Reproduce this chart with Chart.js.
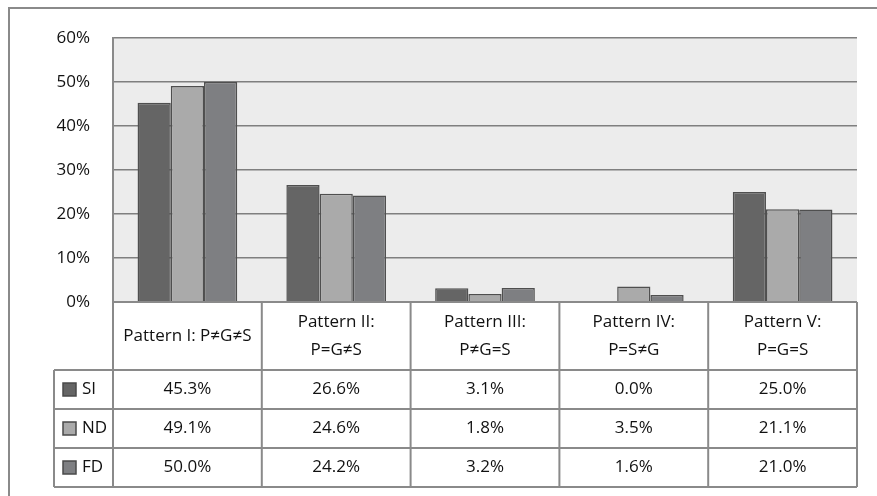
<!DOCTYPE html>
<html>
<head>
<meta charset="utf-8">
<script src="https://cdn.jsdelivr.net/npm/chart.js@4.4.1/dist/chart.umd.min.js"></script>
<style>
  html, body { margin: 0; padding: 0; background: #ffffff; }
  #wrap { width: 877px; height: 496px; position: relative; }
</style>
</head>
<body>
<div id="wrap"><canvas id="c" width="877" height="496"></canvas></div>
<script>
// Column headings of the data table (one entry per pattern, split into lines)
const categories = [
  ['Pattern I: P≠G≠S'],
  ['Pattern II:', 'P=G≠S'],
  ['Pattern III:', 'P≠G=S'],
  ['Pattern IV:', 'P=S≠G'],
  ['Pattern V:', 'P=G=S']
];
const seriesNames = ['SI', 'ND', 'FD'];
const siValues = [45.3, 26.6, 3.1, 0.0, 25.0];
const ndValues = [49.1, 24.6, 1.8, 3.5, 21.1];
const fdValues = [50.0, 24.2, 3.2, 1.6, 21.0];
const tickValues = [0, 10, 20, 30, 40, 50, 60];

const seriesColors = ['#656565', '#aaaaaa', '#7e7f82'];
const FONT = '"Open Sans", "Noto Sans", sans-serif';
const TEXT = '#111111';
const LINE = '#8a8a8a';

// Light panel behind the bars plus the outer frame
const panelPlugin = {
  id: 'panel',
  beforeDraw(chart) {
    const { ctx, chartArea: a } = chart;
    ctx.save();
    ctx.fillStyle = '#ececec';
    ctx.fillRect(a.left, a.top, a.right - a.left, a.bottom - a.top);
    ctx.strokeStyle = '#8a8a8a';
    ctx.lineWidth = 2;
    ctx.beginPath();
    ctx.moveTo(9, 496);
    ctx.lineTo(9, 8);
    ctx.lineTo(877, 8);
    ctx.stroke();
    ctx.restore();
  }
};

// Data table under the plot: headings, legend keys and values
const tablePlugin = {
  id: 'dataTable',
  afterDraw(chart) {
    const { ctx, chartArea: a } = chart;
    const n = categories.length;
    const colW = (a.right - a.left) / n;
    const headerH = 68, rowH = 39, legendLeft = 54;
    const rowsTop = a.bottom + headerH;
    const tableBottom = rowsTop + rowH * seriesNames.length;
    const series = [siValues, ndValues, fdValues];

    ctx.save();
    ctx.fillStyle = '#ffffff';
    ctx.fillRect(a.left, a.bottom, a.right - a.left, tableBottom - a.bottom);
    ctx.fillRect(legendLeft, rowsTop, a.left - legendLeft, tableBottom - rowsTop);

    ctx.strokeStyle = LINE;
    ctx.lineWidth = 2;
    ctx.beginPath();
    ctx.moveTo(a.left, a.bottom);
    ctx.lineTo(a.right, a.bottom);
    for (let r = 0; r <= seriesNames.length; r++) {
      const y = rowsTop + r * rowH;
      ctx.moveTo(legendLeft, y);
      ctx.lineTo(a.right, y);
    }
    for (let i = 0; i <= n; i++) {
      const x = a.left + i * colW;
      ctx.moveTo(x, a.bottom);
      ctx.lineTo(x, tableBottom);
    }
    ctx.moveTo(legendLeft, rowsTop);
    ctx.lineTo(legendLeft, tableBottom);
    ctx.stroke();

    ctx.font = '17px ' + FONT;
    ctx.fillStyle = TEXT;
    ctx.textAlign = 'center';
    ctx.textBaseline = 'middle';
    categories.forEach((lines, i) => {
      const cx = a.left + (i + 0.5) * colW;
      const cy = a.bottom + headerH / 2;
      const lh = 28;
      lines.forEach((t, k) => {
        ctx.fillText(t, cx, cy + (k - (lines.length - 1) / 2) * lh);
      });
    });

    series.forEach((vals, r) => {
      const cy = rowsTop + (r + 0.5) * rowH;
      ctx.textAlign = 'center';
      ctx.fillStyle = TEXT;
      vals.forEach((v, i) => {
        ctx.fillText(v.toFixed(1) + '%', a.left + (i + 0.5) * colW, cy);
      });
      // legend key
      ctx.fillStyle = seriesColors[r];
      ctx.fillRect(legendLeft + 9, cy - 6.5, 13, 13);
      ctx.strokeStyle = '#4a4a4a';
      ctx.lineWidth = 1.5;
      ctx.strokeRect(legendLeft + 9, cy - 6.5, 13, 13);
      ctx.fillStyle = TEXT;
      ctx.textAlign = 'left';
      ctx.fillText(seriesNames[r], legendLeft + 28, cy);
    });
    ctx.restore();
  }
};

const datasets = [siValues, ndValues, fdValues].map((vals, i) => ({
  label: seriesNames[i],
  data: vals,
  backgroundColor: seriesColors[i],
  borderColor: '#4f4f4f',
  borderWidth: 1.5,
  categoryPercentage: 0.67,
  barPercentage: 1.0
}));

new Chart(document.getElementById('c'), {
  type: 'bar',
  data: { labels: categories.map(c => c.join(' ')), datasets },
  options: {
    responsive: false,
    animation: false,
    layout: { padding: { left: 0, right: 20, top: 38, bottom: 194 } },
    plugins: { legend: { display: false }, tooltip: { enabled: false } },
    scales: {
      x: { display: false, offset: true, grid: { display: false } },
      y: {
        min: 0,
        max: 60,
        afterBuildTicks(scale) { scale.ticks = tickValues.map(v => ({ value: v })); },
        afterFit(scale) { scale.width = 113; },
        ticks: {
          callback: v => v + '%',
          font: { family: FONT, size: 17 },
          color: TEXT,
          padding: 23
        },
        grid: { color: '#7f7f7f', lineWidth: 1.6, drawTicks: false },
        border: { display: true, color: '#8a8a8a', width: 2 }
      }
    }
  },
  plugins: [panelPlugin, tablePlugin]
});
</script>
</body>
</html>
